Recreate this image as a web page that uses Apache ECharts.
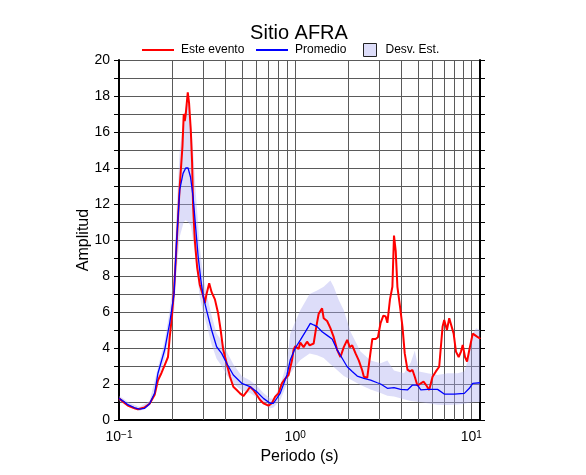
<!DOCTYPE html>
<html><head><meta charset="utf-8">
<script src="https://cdn.jsdelivr.net/npm/echarts@6/dist/echarts.min.js"></script>
<style>html,body{margin:0;padding:0;background:#fff}#c{width:586px;height:475px}</style>
</head><body><div id="c"></div>
<script>
const titleText = 'Sitio AFRA';
const xName = 'Periodo (s)';
const yName = 'Amplitud';
const seriesNames = ['Este evento', 'Promedio', 'Desv. Est.'];
const xMin = 0.1, xMax = 11.2;
const yMin = 0, yMax = 20, yStep = 2;
const minorXGrid = [0.2,0.3,0.4,0.5,0.6,0.7,0.8,0.9,2,3,4,5,6,7,8,9];

const redPeriod = [0.100,0.1075,0.1122,0.1226,0.1280,0.1309,0.1398,0.1492,0.1594,0.1664,
0.1740,0.1817,0.1897,0.1941,0.1985,0.2053,0.2119,0.2212,0.2292,0.2331,
0.2362,0.2393,0.2457,0.2499,0.2556,0.2600,0.2634,0.2693,0.2776,0.2876,
0.3003,0.3070,0.3140,0.3251,0.3355,0.3503,0.3658,0.3776,0.3906,0.4084,
0.4266,0.4456,0.4659,0.4864,0.5079,0.5311,0.5546,0.5791,0.6055,0.6324,
0.6603,0.7052,0.7374,0.7700,0.8042,0.8408,0.8781,0.9170,0.9378,0.9590,
0.9793,1.0014,1.0457,1.0693,1.1166,1.1677,1.2082,1.2734,1.3193,1.3597,
1.4218,1.4519,1.5183,1.5852,1.6554,1.7310,1.8076,1.8876,1.9739,2.0424,
2.1078,2.2016,2.2990,2.4036,2.4547,2.5664,2.6557,2.7409,2.8622,2.9498,
3.0560,3.1664,3.2635,3.3372,3.4530,3.5636,3.6391,3.7213,3.8053,3.9373,
4.0635,4.1879,4.3394,4.4898,4.6337,4.7756,4.9481,5.1671,5.3535,5.5394,
5.7617,6.0249,6.2917,6.5700,6.8702,7.0157,7.2690,7.4914,7.6608,7.9373,
8.1804,8.4758,8.7361,8.9333,9.2091,9.4548,9.7442,10.186,10.402,10.777,
11.167,11.2];
const redAmp = [1.2,0.95,0.8,0.65,0.6,0.62,0.7,0.9,1.4,2.2,
2.6,3.05,3.5,4.6,5.5,7.2,9.6,13.0,15.2,17.0,
16.6,17.0,18.2,17.6,16.1,14.3,11.9,10.0,8.5,7.5,
6.9,6.5,7.0,7.6,7.1,6.7,5.9,5.0,3.9,3.15,
2.4,1.85,1.67,1.48,1.33,1.57,1.85,1.67,1.39,1.11,
0.93,0.8,0.93,1.3,1.48,2.04,2.3,2.5,2.6,3.3,
3.9,4.1,3.95,4.3,4.05,4.35,4.15,4.25,5.2,5.9,
6.2,5.65,5.5,5.1,4.6,3.9,3.5,4.05,4.45,4.05,
4.15,3.7,3.3,2.75,2.4,2.35,3.5,4.5,4.5,4.6,
5.4,5.8,5.75,5.4,6.7,7.4,10.25,9.4,7.4,6.3,
5.2,3.7,2.8,2.7,2.78,2.4,1.9,2.04,2.13,1.94,
1.67,2.4,2.7,2.96,5.2,5.56,5.0,5.65,5.74,4.8,
3.8,3.5,3.8,4.17,3.5,3.24,3.9,4.8,4.9,4.63,
4.54,4.5];

const bluePeriod = [0.100,0.1075,0.1122,0.1226,0.1309,0.1398,0.1492,0.1594,0.1664,0.1817,
0.1941,0.2053,0.2119,0.2212,0.2310,0.2393,0.2466,0.2546,0.2634,0.2729,
0.2813,0.2914,0.3003,0.3140,0.3355,0.3582,0.3826,0.4084,0.4456,0.4974,
0.5546,0.6055,0.6603,0.7211,0.7531,0.8222,0.8978,0.9378,1.0014,1.0693,
1.1418,1.2194,1.2734,1.3315,1.4218,1.5183,1.6210,1.7310,1.8484,1.9739,
2.1078,2.2509,2.4547,2.6803,2.9268,3.0560,3.3372,3.6391,3.9737,4.3394,
4.6337,4.9481,5.1671,5.6424,6.4337,7.0157,7.9997,9.1246,9.7442,10.186,
11.2];
const blueAmp = [1.2,1.0,0.85,0.68,0.6,0.65,0.9,1.5,2.6,3.9,
5.4,7.0,9.8,12.8,13.7,14.0,14.0,13.5,12.4,10.6,
9.1,7.8,6.9,6.1,5.0,4.07,3.7,3.15,2.5,2.04,
1.85,1.57,1.2,0.93,0.93,1.48,2.5,3.33,4.0,4.44,
4.9,5.37,5.28,5.19,4.9,4.7,4.5,3.9,3.43,2.96,
2.69,2.44,2.31,2.22,2.07,2.0,1.76,1.8,1.7,1.67,
1.94,1.94,1.67,1.7,1.7,1.44,1.44,1.48,1.76,2.04,
2.07];

const bandPeriod = [0.100,0.1148,0.1309,0.1492,0.1702,0.1817,0.1941,0.2053,0.2119,0.2212,
0.2331,0.2393,0.2466,0.2556,0.2634,0.2729,0.2876,0.3003,0.3140,0.3355,
0.3582,0.3826,0.4084,0.4456,0.4974,0.5546,0.6055,0.6603,0.7211,0.7531,
0.8222,0.8978,0.9378,1.0693,1.2082,1.3315,1.4519,1.5852,1.6554,1.7677,
1.8876,2.0613,2.3507,2.6803,3.0560,3.3372,3.6391,4.1496,4.5314,4.7756,
5.0530,5.6424,6.4337,7.3362,8.3652,9.1246,9.5424,10.186,10.637,11.2];
const bandLow = [1.05,0.7,0.5,0.78,2.5,3.4,4.8,6.0,8.2,10.2,
11.0,11.1,11.0,10.8,10.0,8.8,6.8,6.0,5.3,4.2,
3.4,3.0,2.5,2.0,1.65,1.5,1.25,0.9,0.65,0.7,
1.1,2.0,2.6,3.33,3.7,3.6,3.45,3.1,2.95,2.7,
2.45,2.25,1.95,1.7,1.5,1.35,1.3,1.15,1.05,1.03,
1.0,0.93,0.85,0.83,0.86,0.9,0.95,0.98,1.0,1.0];
const bandHigh = [1.35,0.95,0.72,1.05,3.3,4.4,6.1,8.2,11.5,15.0,
16.8,17.4,17.6,16.6,15.0,12.6,9.6,8.0,7.0,5.8,
4.8,4.4,3.8,3.1,2.45,2.2,1.9,1.5,1.2,1.2,
1.9,3.2,4.8,6.1,7.0,7.2,7.4,7.75,7.4,6.67,
6.1,4.9,3.8,3.3,3.15,3.3,2.75,2.6,3.2,3.85,
2.7,2.6,2.5,2.6,2.6,2.7,3.3,4.8,5.1,5.0];

const FONT = '"Liberation Sans", Arial, Helvetica, sans-serif';
const gridColor = '#5a5a5a';
const bandFill = 'rgba(170,170,240,0.4)';
const bandLegendFill = 'rgb(221,221,249)';
const zip = (a, b) => a.map((v, i) => [v, b[i]]);
const bandData = bandPeriod.map((p, i) => [p, bandLow[i], bandHigh[i]]);

const chart = echarts.init(document.getElementById('c'), null, {renderer: 'canvas'});
const txt = {fontFamily: FONT, color: '#000'};
const frame = {show: true, lineStyle: {color: '#000', width: 2}};

function renderBand(params, api) {
  if (params.dataIndex !== 0) return null;
  const upper = [], lower = [];
  for (let i = 0; i < bandData.length; i++) {
    upper.push(api.coord([bandData[i][0], bandData[i][2]]));
    lower.push(api.coord([bandData[i][0], bandData[i][1]]));
  }
  return {
    type: 'polygon',
    shape: {points: upper.concat(lower.reverse())},
    style: {fill: bandFill, stroke: null},
    silent: true
  };
}

const legendText = pad => Object.assign({fontSize: 12, padding: [0, 0, 0, pad]}, txt);

const option = {
  animation: false,
  backgroundColor: '#fff',
  title: {text: titleText, left: 299, top: 23, padding: 0, textAlign: 'center',
    textStyle: Object.assign({fontSize: 20, fontWeight: 'normal'}, txt)},
  legend: [
    {data: [{name: seriesNames[0], icon: 'rect'}], left: 142, top: 44, padding: 0,
      itemWidth: 32, itemHeight: 2, selectedMode: false, textStyle: legendText(2)},
    {data: [{name: seriesNames[1], icon: 'rect'}], left: 256, top: 44, padding: 0,
      itemWidth: 32, itemHeight: 2, selectedMode: false, textStyle: legendText(2)},
    {data: [{name: seriesNames[2], icon: 'rect',
      itemStyle: {color: bandLegendFill, borderColor: '#222', borderWidth: 1}}],
      left: 363, top: 43, padding: 0, itemWidth: 13, itemHeight: 13,
      selectedMode: false, textStyle: legendText(4)}
  ],
  grid: {left: 119, right: 106, top: 60, bottom: 55},
  xAxis: [
    {type: 'log', logBase: 10, min: xMin, max: xMax, position: 'bottom',
      name: xName, nameLocation: 'middle', nameGap: 29, nameMoveOverlap: false,
      nameTextStyle: Object.assign({fontSize: 16}, txt),
      axisLine: frame, axisTick: {show: false},
      splitLine: {show: true, lineStyle: {color: gridColor, width: 1}},
      axisLabel: {margin: 10, color: '#000',
        formatter: function (v) {
          const e = Math.log10(v), r = Math.round(e);
          if (Math.abs(e - r) > 1e-6) return '';
          return '{b|10}{s|' + (r < 0 ? '\u2212' + (-r) : r) + '}';
        },
        rich: {b: Object.assign({fontSize: 14}, txt),
               s: Object.assign({fontSize: 10, verticalAlign: 'top'}, txt)}}},
    {type: 'log', logBase: 10, min: xMin, max: xMax, position: 'top',
      axisLine: frame, axisTick: {show: false}, axisLabel: {show: false}, splitLine: {show: false}}
  ],
  yAxis: [
    {type: 'value', min: yMin, max: yMax, interval: yStep, position: 'left',
      name: yName, nameLocation: 'middle', nameGap: 27, nameMoveOverlap: false,
      nameTextStyle: Object.assign({fontSize: 16}, txt),
      axisLine: frame,
      axisTick: {show: true, inside: false, length: 5, lineStyle: {color: '#000', width: 1}},
      minorTick: {show: true, splitNumber: 2, length: 5, lineStyle: {color: '#000', width: 1}},
      splitLine: {show: true, lineStyle: {color: gridColor, width: 1}},
      minorSplitLine: {show: true, lineStyle: {color: gridColor, width: 1}},
      axisLabel: Object.assign({fontSize: 14, margin: 9}, txt)},
    {type: 'value', min: yMin, max: yMax, interval: yStep, position: 'right',
      axisLine: frame,
      axisTick: {show: true, inside: false, length: 5, lineStyle: {color: '#000', width: 1}},
      minorTick: {show: true, splitNumber: 2, length: 5, lineStyle: {color: '#000', width: 1}},
      splitLine: {show: false}, minorSplitLine: {show: false}, axisLabel: {show: false}}
  ],
  series: [
    {name: 'grid', type: 'line', data: [], symbol: 'none', silent: true, z: 1,
      markLine: {silent: true, symbol: ['none', 'none'], z: 1, animation: false,
        label: {show: false}, lineStyle: {color: gridColor, width: 1, type: 'solid'},
        data: minorXGrid.map(v => ({xAxis: v}))}},
    {name: seriesNames[2], type: 'custom', data: bandData, encode: {x: 0, y: [1, 2]},
      renderItem: renderBand, itemStyle: {color: bandLegendFill}, silent: true, z: 2},
    {name: seriesNames[0], type: 'line', data: zip(redPeriod, redAmp), symbol: 'none',
      lineStyle: {color: '#ff0000', width: 2}, itemStyle: {color: '#ff0000'}, z: 3},
    {name: seriesNames[1], type: 'line', data: zip(bluePeriod, blueAmp), symbol: 'none',
      lineStyle: {color: '#0000ff', width: 1.3}, itemStyle: {color: '#0000ff'}, z: 4}
  ]
};
chart.setOption(option);
</script>
</body></html>
